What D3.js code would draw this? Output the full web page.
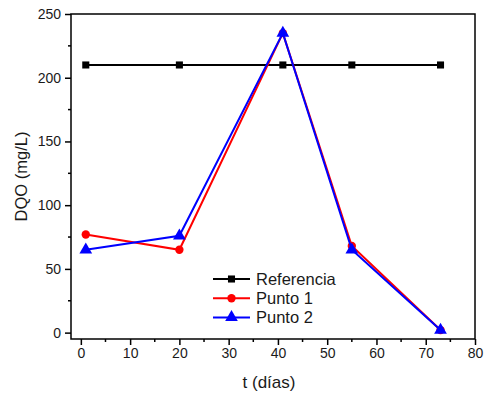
<!DOCTYPE html>
<html>
<head>
<meta charset="utf-8">
<script src="https://cdn.jsdelivr.net/npm/d3@7"></script>
<style>
  html, body { margin: 0; padding: 0; background: #fff; }
  svg { display: block; font-family: Arial, "Liberation Sans", sans-serif; }
</style>
</head>
<body>
<svg id="chart" width="484" height="393"></svg>
<script>
// Sampling days and DQO measurements (mg/L)
const days = [1, 20, 41, 55, 73];
const referencia = [210, 210, 210, 210, 210];
const punto1 = [77, 65, 235, 68, 2];
const punto2 = [65, 76, 235, 65, 2];

const seriesNames = ["Referencia", "Punto 1", "Punto 2"];
const seriesColors = ["#000000", "#ff0000", "#0000ff"];
const seriesShapes = [d3.symbolSquare, d3.symbolCircle, d3.symbolTriangle];
const seriesSizes = [50, 55, 70];

const xTicks = [0, 10, 20, 30, 40, 50, 60, 70, 80];
const yTicks = [0, 50, 100, 150, 200, 250];

const svg = d3.select("#chart");
const plotLeft = 71, plotRight = 475, plotTop = 14, plotBottom = 339;

const x = d3.scaleLinear().domain([-2, 80]).range([plotLeft, plotRight]);
const y = d3.scaleLinear().domain([-5, 250]).range([plotBottom, plotTop]);

// Frame
svg.append("rect")
  .attr("x", plotLeft).attr("y", plotTop)
  .attr("width", plotRight - plotLeft).attr("height", plotBottom - plotTop)
  .attr("fill", "none").attr("stroke", "#000").attr("stroke-width", 1.5);

// Minor ticks
const xMinor = d3.range(5, 80, 10);
const yMinor = d3.range(25, 250, 50);

const xAxis = svg.append("g").attr("transform", `translate(0,${plotBottom})`)
  .call(d3.axisBottom(x).tickValues(xTicks).tickSize(6).tickPadding(3).tickFormat(d3.format("d")));
const yAxis = svg.append("g").attr("transform", `translate(${plotLeft},0)`)
  .call(d3.axisLeft(y).tickValues(yTicks).tickSize(6).tickPadding(4).tickFormat(d3.format("d")));

[xAxis, yAxis].forEach(g => {
  g.select(".domain").remove();
  g.selectAll("line").attr("stroke", "#000").attr("stroke-width", 1.5);
  g.selectAll("text").attr("font-size", 14).attr("fill", "#1a1a1a")
    .attr("font-family", "Arial, 'Liberation Sans', sans-serif");
});

svg.append("g").selectAll("line").data(xMinor).join("line")
  .attr("x1", d => x(d)).attr("x2", d => x(d))
  .attr("y1", plotBottom).attr("y2", plotBottom + 3)
  .attr("stroke", "#000").attr("stroke-width", 1.5);
svg.append("g").selectAll("line").data(yMinor).join("line")
  .attr("x1", plotLeft - 3).attr("x2", plotLeft)
  .attr("y1", d => y(d)).attr("y2", d => y(d))
  .attr("stroke", "#000").attr("stroke-width", 1.5);

// Axis titles
svg.append("text")
  .attr("x", (plotLeft + plotRight) / 2 - 4).attr("y", 388)
  .attr("text-anchor", "middle").attr("font-size", 17).attr("fill", "#1a1a1a")
  .text("t (días)");
svg.append("text")
  .attr("transform", `translate(27,${(plotTop + plotBottom) / 2}) rotate(-90)`)
  .attr("text-anchor", "middle").attr("font-size", 16.5).attr("fill", "#1a1a1a")
  .text("DQO (mg/L)");

// Series
const allSeries = [referencia, punto1, punto2];
const line = d3.line().x(d => x(d[0])).y(d => y(d[1]));

allSeries.forEach((vals, i) => {
  const pts = days.map((d, j) => [d, vals[j]]);
  const g = svg.append("g");
  g.append("path").datum(pts)
    .attr("d", line).attr("fill", "none")
    .attr("stroke", seriesColors[i]).attr("stroke-width", 2);
  g.selectAll("path.m").data(pts).join("path").attr("class", "m")
    .attr("transform", d => `translate(${x(d[0])},${y(d[1])})`)
    .attr("d", d3.symbol().type(seriesShapes[i]).size(seriesSizes[i]))
    .attr("fill", seriesColors[i]);
});

// Legend
const legend = svg.append("g");
seriesNames.forEach((name, i) => {
  const ly = 279 + i * 19.2;
  legend.append("line")
    .attr("x1", 213).attr("x2", 250).attr("y1", ly).attr("y2", ly)
    .attr("stroke", seriesColors[i]).attr("stroke-width", 2);
  legend.append("path")
    .attr("transform", `translate(231.5,${ly})`)
    .attr("d", d3.symbol().type(seriesShapes[i]).size(seriesSizes[i]))
    .attr("fill", seriesColors[i]);
  legend.append("text")
    .attr("x", 256).attr("y", ly + 6)
    .attr("font-size", 16.5).attr("fill", "#1a1a1a")
    .text(name);
});
</script>
</body>
</html>
